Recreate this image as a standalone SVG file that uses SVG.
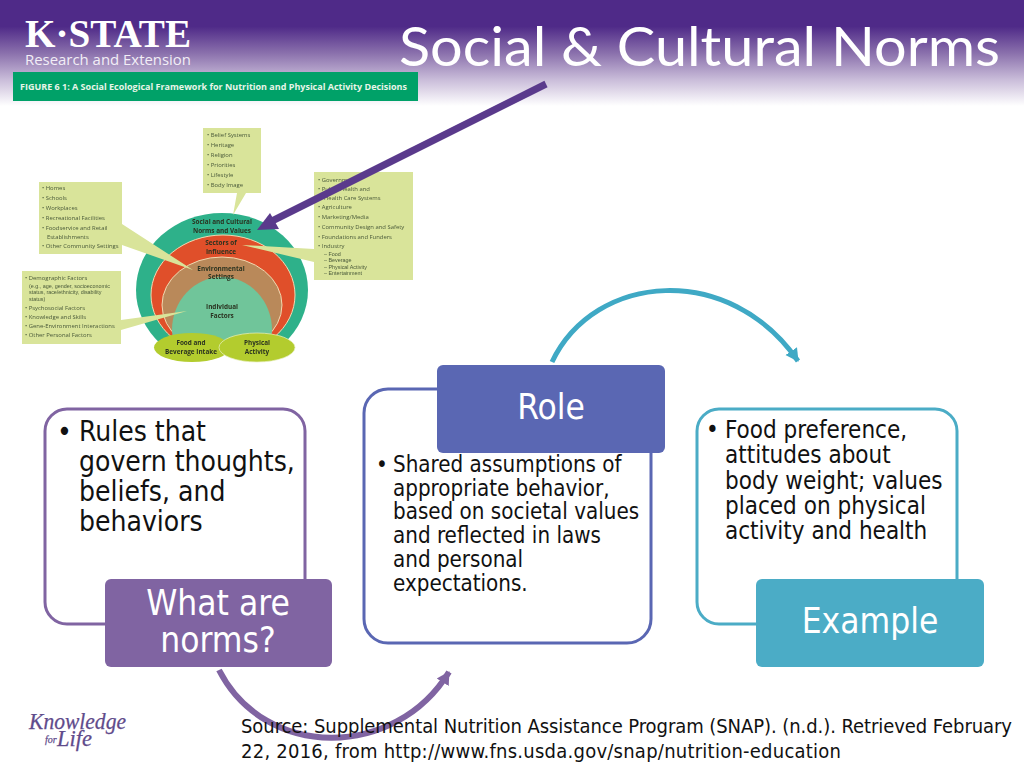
<svg xmlns="http://www.w3.org/2000/svg" width="1024" height="768" viewBox="0 0 1024 768">
<style>
text{font-family:"DejaVu Sans Condensed","DejaVu Sans",sans-serif}
.fig{font-family:"Open Sans","Liberation Sans",Arial,sans-serif}
.t{font-size:5.9px;fill:#4a5a3a}
.s{font-family:"Liberation Sans",Arial,sans-serif;font-size:5.4px;fill:#4a5a3a}
.h{font-size:6.4px;font-weight:bold;fill:#2b3320;text-anchor:middle}
.box{fill:#d9e49a}
.card{fill:#fff;stroke-width:3}
.head{fill:#fff;text-anchor:middle;font-size:35px}
</style>
<defs>
<linearGradient id="hdr" x1="0" y1="0" x2="0" y2="1">
<stop offset="0" stop-color="#4f2a88"/><stop offset="0.25" stop-color="#4f2a88"/><stop offset="0.5" stop-color="#8a70ac"/><stop offset="0.75" stop-color="#c9bcd9"/><stop offset="1" stop-color="#fff"/>
</linearGradient>
<marker id="ap" markerUnits="userSpaceOnUse" markerWidth="16" markerHeight="18" refX="12" refY="8" orient="auto"><path d="M0 1L13 8L0 15Z" fill="#8064a2"/></marker>
<marker id="at" markerUnits="userSpaceOnUse" markerWidth="16" markerHeight="18" refX="12" refY="8" orient="auto"><path d="M0 1L13 8L0 15Z" fill="#3fa9c5"/></marker>
<filter id="soft" x="-5%" y="-5%" width="110%" height="110%"><feGaussianBlur stdDeviation="0.3"/></filter>
<clipPath id="cut"><rect x="120" y="200" width="200" height="147"/></clipPath>
</defs>
<rect id="header" x="0" y="0" width="1024" height="106" fill="url(#hdr)"/>
<g id="logo">
<text x="25" y="47" font-size="40" font-weight="bold" fill="#fff" textLength="166" lengthAdjust="spacingAndGlyphs" style="font-family:'Liberation Serif',serif">K·STATE</text>
<text x="25" y="65" font-size="14" fill="#f2eef6" textLength="166" lengthAdjust="spacingAndGlyphs" style="font-family:'Open Sans',sans-serif">Research and Extension</text>
</g>
<text id="title" x="399" y="66" font-size="54" fill="#fff" textLength="601" lengthAdjust="spacingAndGlyphs" style="font-family:Lato,sans-serif">Social &amp; Cultural Norms</text>
<g id="banner">
<rect x="13" y="72" width="405" height="29" fill="#00a168"/>
<text class="fig" x="20" y="90" font-size="9.6" font-weight="bold" fill="#e8f5e8" textLength="387" lengthAdjust="spacingAndGlyphs">FIGURE 6 1: A Social  Ecological Framework for Nutrition and Physical Activity Decisions</text>
</g>
<g id="figure" filter="url(#soft)">
<g id="rings">
<g clip-path="url(#cut)">
<ellipse cx="222" cy="290" rx="86" ry="77" fill="#2eb18a"/>
<ellipse cx="223" cy="295" rx="72" ry="60" fill="#e04f2a" stroke="#f2d8b0"/>
<ellipse cx="222" cy="305" rx="60" ry="48" fill="#b9895a" stroke="#f2d8b0"/>
<ellipse cx="222" cy="330" rx="50" ry="53" fill="#6fc59a"/>
</g>
<text class="fig h" x="222" y="224">Social and Cultural</text>
<text class="fig h" x="222" y="233">Norms and Values</text>
<text class="fig h" x="221" y="245">Sectors of</text>
<text class="fig h" x="221" y="254">Influence</text>
<text class="fig h" x="221" y="271">Environmental</text>
<text class="fig h" x="221" y="279">Settings</text>
<text class="fig h" x="222" y="309">Individual</text>
<text class="fig h" x="222" y="318">Factors</text>
</g>
<g id="intake">
<ellipse cx="192" cy="347.500" rx="38" ry="14.500" fill="#b3cc2e"/>
<ellipse cx="257" cy="347.500" rx="38" ry="14.500" fill="#b3cc2e" stroke="#e8efc0" stroke-width="0.7"/>
<text class="fig h" x="191" y="345">Food and</text>
<text class="fig h" x="191" y="354">Beverage Intake</text>
<text class="fig h" x="257" y="345">Physical</text>
<text class="fig h" x="257" y="354">Activity</text>
</g>
<g id="box-settings">
<path class="box" d="M39 182H122V224L193 270L122 245V254H39Z"/>
<text class="fig t"><tspan x="42" y="190">• Homes</tspan><tspan x="42" y="200">• Schools</tspan><tspan x="42" y="210">• Workplaces</tspan><tspan x="42" y="220">• Recreational Facilities</tspan><tspan x="42" y="229.500">• Foodservice and Retail</tspan><tspan x="47" y="239">Establishments</tspan><tspan x="42" y="248">• Other Community Settings</tspan></text>
</g>
<g id="box-personal">
<path class="box" d="M22 271H121V330L187 311L121 320V344H22Z"/>
<text class="fig t" x="25" y="280">• Demographic Factors</text>
<text class="s"><tspan x="29" y="287.500">(e.g., age, gender, socioeconomic</tspan><tspan x="29" y="294">status, race/ethnicity, disability</tspan><tspan x="29" y="300.500">status)</tspan></text>
<text class="fig t"><tspan x="25" y="310">• Psychosocial Factors</tspan><tspan x="25" y="319">• Knowledge and Skills</tspan><tspan x="25" y="328">• Gene-Environment Interactions</tspan><tspan x="25" y="337">• Other Personal Factors</tspan></text>
</g>
<g id="box-norms">
<path class="box" d="M203 128H261V193H246L233 215L237 193H203Z"/>
<text class="fig t"><tspan x="207" y="137">• Belief Systems</tspan><tspan x="207" y="147">• Heritage</tspan><tspan x="207" y="157">• Religion</tspan><tspan x="207" y="167">• Priorities</tspan><tspan x="207" y="177">• Lifestyle</tspan><tspan x="207" y="187">• Body Image</tspan></text>
</g>
<g id="box-sectors">
<path class="box" d="M314 172H413V280H314V262L242 245L314 249Z"/>
<text class="fig t"><tspan x="318" y="182">• Government</tspan><tspan x="318" y="191">• Public Health and</tspan><tspan x="324" y="199.500">Health Care Systems</tspan><tspan x="318" y="209">• Agriculture</tspan><tspan x="318" y="219">• Marketing/Media</tspan><tspan x="318" y="229">• Community Design and Safety</tspan><tspan x="318" y="239">• Foundations and Funders</tspan><tspan x="318" y="248">• Industry</tspan></text>
<text class="s"><tspan x="324" y="255.500">– Food</tspan><tspan x="324" y="262">– Beverage</tspan><tspan x="324" y="268.500">– Physical Activity</tspan><tspan x="324" y="275">– Entertainment</tspan></text>
</g>
</g>
<g id="connectors">
<path id="pointer" d="M546 84L272 221" stroke="#5a3a8c" stroke-width="7" fill="none"/>
<path d="M257 230L270 213L279 229Z" fill="#5a3a8c"/>
<path id="curve-role-example" d="M552 362C595 272 730 262 798 361" fill="none" stroke="#3fa9c5" stroke-width="5" marker-end="url(#at)"/>
<path id="curve-norms-role" d="M219 670C265 760 395 760 449 672" fill="none" stroke="#8064a2" stroke-width="6" marker-end="url(#ap)"/>
</g>
<g id="node-norms">
<rect class="card" x="45" y="409" width="260" height="215" rx="22" stroke="#8064a2"/>
<text font-size="28" fill="#111"><tspan x="57" y="441">•</tspan><tspan x="79" y="441">Rules that</tspan><tspan x="79" y="471">govern thoughts,</tspan><tspan x="79" y="501">beliefs, and</tspan><tspan x="79" y="531">behaviors</tspan></text>
<rect x="105" y="579" width="227" height="88" rx="6" fill="#8064a2"/>
<text class="head" x="218" y="615">What are</text><text class="head" x="218" y="652">norms?</text>
</g>
<g id="node-role">
<rect class="card" x="364" y="389" width="287" height="254" rx="24" stroke="#5a67b3"/>
<text font-size="22.200" fill="#111"><tspan x="376" y="472">•</tspan><tspan x="393" y="472">Shared assumptions of</tspan><tspan x="393" y="495.500">appropriate behavior,</tspan><tspan x="393" y="519">based on societal values</tspan><tspan x="393" y="543">and reflected in laws</tspan><tspan x="393" y="567">and personal</tspan><tspan x="393" y="591">expectations.</tspan></text>
<rect x="437" y="365" width="228" height="88" rx="6" fill="#5a67b3"/>
<text class="head" x="551" y="419">Role</text>
</g>
<g id="node-example">
<rect class="card" x="697" y="409" width="260" height="215" rx="22" stroke="#4bacc6"/>
<text font-size="24" fill="#111"><tspan x="706" y="437.500">•</tspan><tspan x="725" y="437.500">Food preference,</tspan><tspan x="725" y="463">attitudes about</tspan><tspan x="725" y="488.500">body weight; values</tspan><tspan x="725" y="513.500">placed on physical</tspan><tspan x="725" y="538.500">activity and health</tspan></text>
<rect x="756" y="579" width="228" height="88" rx="6" fill="#4bacc6"/>
<text class="head" x="870" y="633">Example</text>
</g>
<g id="knowledge-logo" fill="#5f4b8b" stroke="#5f4b8b" stroke-width="0.25" style="font-style:italic">
<text x="29" y="729" font-size="23" textLength="97" lengthAdjust="spacingAndGlyphs" style="font-family:'Liberation Serif',serif">Knowledge</text>
<text x="45" y="743" font-size="10" style="font-family:'Liberation Serif',serif">for</text>
<text x="57" y="746" font-size="23" textLength="35" lengthAdjust="spacingAndGlyphs" style="font-family:'Liberation Serif',serif">Life</text>
</g>
<g id="source" font-size="20" fill="#111">
<text x="241" y="733" textLength="771">Source: Supplemental Nutrition Assistance Program (SNAP). (n.d.). Retrieved February</text>
<text x="241" y="758" textLength="600">22, 2016, from http://www.fns.usda.gov/snap/nutrition-education</text>
</g>
</svg>
